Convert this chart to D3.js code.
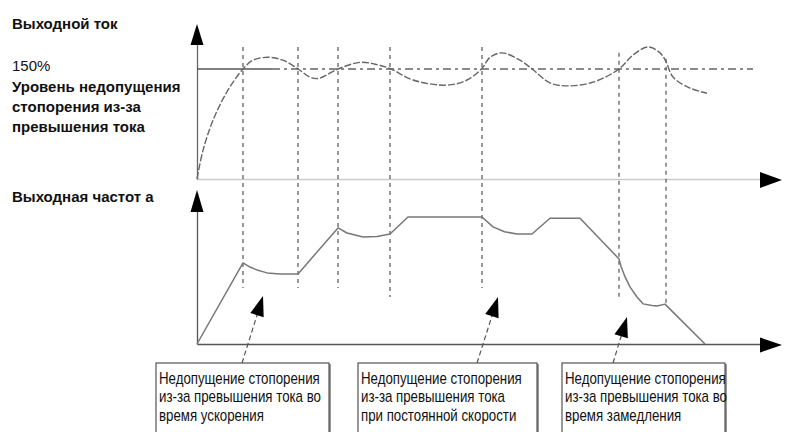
<!DOCTYPE html>
<html>
<head>
<meta charset="utf-8">
<script src="https://cdn.jsdelivr.net/npm/d3@7/dist/d3.min.js"></script>
<style>
  html, body { margin: 0; padding: 0; background: #fff; }
  svg { display: block; }
  .lbl { font-family: "Liberation Sans", Arial, sans-serif; font-size: 15px; fill: #111; }
  .lbl.b { font-weight: bold; }
  .note { font-family: "Liberation Sans", Arial, sans-serif; font-size: 16px; fill: #111; }
</style>
</head>
<body>
<svg id="chart" width="798" height="432"></svg>
<script>
// Time axis (arbitrary units) shared by both traces
const timeDomain = [0, 117];

// Output current, % of rated
const currentT   = [0, 1.2, 3.2, 6.0, 9.2, 11.2, 14.2, 17.2, 20.2, 22.6, 24.2, 28.2, 32.6, 36.0, 38.8, 43.2, 50.0, 54.0, 57.0, 58.6, 61.0, 64.6, 67.2, 70.6, 74.0, 79.2, 84.4, 87.2, 90.2, 92.6, 93.8, 95.2, 98.6, 102];
const currentPct = [0, 39,  80,  119, 150, 162,  166,  162,  150,  139,  137,  150,  159,  156,  150,  135,  128,  135,  151,  166,  172,  162,  149,  131,  127,  132,  150,  169,  180,  172,  160,  139,  124,  117];
const stallLevelPct = 150;
const stallLevelLabel = "150%";

// Output frequency, Hz
const freqT  = [0, 9.2, 10.6, 12.2, 14.0, 16.6, 20.2, 28.2, 30.0, 33.2, 36.0, 38.6, 42.2, 57.0, 59.2, 61.5, 64.0, 67.0, 70.6, 76.6, 84.4, 84.8, 85.6, 86.6, 88.0, 89.2, 91.0, 92.0, 93.6, 101.6];
const freqHz = [0, 31.9, 30.3, 29.0, 28.0, 27.6, 27.6, 45.7, 43.7, 42.1, 42.3, 43.3, 50,   50,   46.1, 44.2, 43.3, 43.3, 49.5, 49.5, 33.5, 30.5, 26.5, 22.5, 18.5, 15.8, 15.2, 15.0, 15.7, 0];

// Moments where stall prevention acts (dashed markers)
const markerT       = [9.2, 20.2, 28.2, 38.6, 57.0, 84.4, 93.8];
const markerTopPct  = [180, 180,  180,  180,  180,  172,  164];
const markerLowHz   = [22,  22,   22,   18.5, 22,   18.5, 16];

// Callouts: arrow tip (time, Hz) and box text
const calloutTipT  = [13.2, 60.2, 86.0];
const calloutTipHz = [18.9, 18.5, 10.6];
const calloutTailT = [9.0, 56.0, 83.2];
const calloutText = [
  ["Недопущение стопорения", "из-за превышения тока во", "время ускорения"],
  ["Недопущение стопорения", "из-за превышения тока", "при постоянной скорости"],
  ["Недопущение стопорения", "из-за превышения тока во", "время замедления"]
];
const boxLeftT  = [-8.2, 32.2, 73.0];
const boxRightT = [26.4, 68.0, 105.6];

const leftLabels = ["Выходной ток", "Уровень недопущения", "стопорения из-за", "превышения тока", "Выходная частот а"];

const svg = d3.select("#chart");

const x = d3.scaleLinear().domain(timeDomain).range([197, 782]);
const yCur = d3.scaleLinear().domain([0, 150]).range([179, 69]);
const yFreq = d3.scaleLinear().domain([0, 50]).range([344, 217]);

const xAxisEnd = 760;

// ---- left-side labels
const L = svg.append("g");
L.append("text").attr("class", "lbl b").attr("x", 12).attr("y", 29).text(leftLabels[0]);
L.append("text").attr("class", "lbl").attr("x", 12).attr("y", 70.5).text(stallLevelLabel);
[92, 112, 132].forEach((yy, i) => {
  L.append("text").attr("class", "lbl b").attr("x", 12).attr("y", yy).text(leftLabels[i + 1]);
});
L.append("text").attr("class", "lbl b").attr("x", 12).attr("y", 201.5).text(leftLabels[4]);

// ---- axes (domain lines only)
function hAxis(y, color, width) {
  const g = svg.append("g").attr("transform", `translate(0,${y})`)
    .call(d3.axisBottom(d3.scaleLinear().domain([0, 1]).range([x(0), xAxisEnd])).tickValues([]).tickSizeOuter(0));
  g.select(".domain").attr("stroke", color).attr("stroke-width", width);
}
function vAxis(y0, y1, color, width) {
  const g = svg.append("g").attr("transform", `translate(${x(0)},0)`)
    .call(d3.axisLeft(d3.scaleLinear().domain([0, 1]).range([y0, y1])).tickValues([]).tickSizeOuter(0));
  g.select(".domain").attr("stroke", color).attr("stroke-width", width);
}
hAxis(yCur(0), "#c9c9c9", 1.6);
vAxis(yCur(0), 44, "#666", 1.3);
hAxis(yFreq(0), "#555", 1.6);
vAxis(yFreq(0), 211, "#555", 1.3);

function arrowHead(tipX, tipY, dirDeg, len, halfW) {
  const a = dirDeg * Math.PI / 180;
  const ux = Math.cos(a), uy = Math.sin(a);
  const bx = tipX - ux * len, by = tipY - uy * len;
  const px = -uy * halfW, py = ux * halfW;
  svg.append("path")
    .attr("d", `M${tipX},${tipY}L${bx + px},${by + py}L${bx - px},${by - py}Z`)
    .attr("fill", "#000");
}
// axis arrowheads
arrowHead(x(0), 24, -90, 21, 6.5);
arrowHead(x(0), 190, -90, 22, 6.5);
arrowHead(782, yCur(0) + 1, 0, 22, 8);
arrowHead(782, yFreq(0) + 1, 0, 22, 7.5);

// ---- dashed event markers
markerT.forEach((t, i) => {
  svg.append("line")
    .attr("x1", x(t)).attr("x2", x(t))
    .attr("y1", yCur(markerTopPct[i])).attr("y2", yFreq(markerLowHz[i]))
    .attr("stroke", "#555").attr("stroke-width", 1.2)
    .attr("stroke-dasharray", "4,4");
});

// ---- stall prevention level line
const solidEnd = 15;
svg.append("line")
  .attr("x1", x(0)).attr("x2", x(solidEnd))
  .attr("y1", yCur(stallLevelPct)).attr("y2", yCur(stallLevelPct))
  .attr("stroke", "#555").attr("stroke-width", 1.3);
svg.append("line")
  .attr("x1", x(solidEnd)).attr("x2", x(111.2))
  .attr("y1", yCur(stallLevelPct)).attr("y2", yCur(stallLevelPct))
  .attr("stroke", "#666").attr("stroke-width", 1.3)
  .attr("stroke-dasharray", "8,4,3,4");

// ---- output current trace
const curData = currentT.map((t, i) => [t, currentPct[i]]);
svg.append("path")
  .datum(curData)
  .attr("d", d3.line().x(d => x(d[0])).y(d => yCur(d[1])).curve(d3.curveCatmullRom.alpha(0.5)))
  .attr("fill", "none").attr("stroke", "#666").attr("stroke-width", 1.4)
  .attr("stroke-dasharray", "7,2");

// ---- output frequency trace
const freqData = freqT.map((t, i) => [t, freqHz[i]]);
svg.append("path")
  .datum(freqData)
  .attr("d", d3.line().x(d => x(d[0])).y(d => yFreq(d[1])))
  .attr("fill", "none").attr("stroke", "#777").attr("stroke-width", 1.5)
  .attr("stroke-linejoin", "round");

// ---- callout boxes (narrow lettering via horizontal condense)
const boxTop = 363;
const condense = 0.83;
calloutText.forEach((lines, i) => {
  const x0 = x(boxLeftT[i]), x1 = x(boxRightT[i]);
  const g = svg.append("g");
  // shadow
  g.append("rect").attr("x", x0 + 2).attr("y", boxTop + 1).attr("width", x1 - x0).attr("height", 90)
    .attr("fill", "#9a9a9a");
  g.append("rect").attr("x", x0).attr("y", boxTop).attr("width", x1 - x0).attr("height", 90)
    .attr("fill", "#fff").attr("stroke", "#444").attr("stroke-width", 1.1);
  lines.forEach((s, j) => {
    g.append("text").attr("class", "note")
      .attr("transform", `translate(${x0 + 3},${383.5 + j * 18.5}) scale(${condense},1)`)
      .text(s);
  });
});

// ---- callout arrows
calloutTipT.forEach((t, i) => {
  const tx = x(t), ty = yFreq(calloutTipHz[i]);
  const sx = x(calloutTailT[i]), sy = boxTop;
  const ang = Math.atan2(ty - sy, tx - sx) * 180 / Math.PI;
  const len = 20;
  const a = ang * Math.PI / 180;
  svg.append("line")
    .attr("x1", sx).attr("y1", sy)
    .attr("x2", tx - Math.cos(a) * (len - 2)).attr("y2", ty - Math.sin(a) * (len - 2))
    .attr("stroke", "#555").attr("stroke-width", 1.2).attr("stroke-dasharray", "5,3");
  arrowHead(tx, ty, ang, len, 7);
});
</script>
</body>
</html>
